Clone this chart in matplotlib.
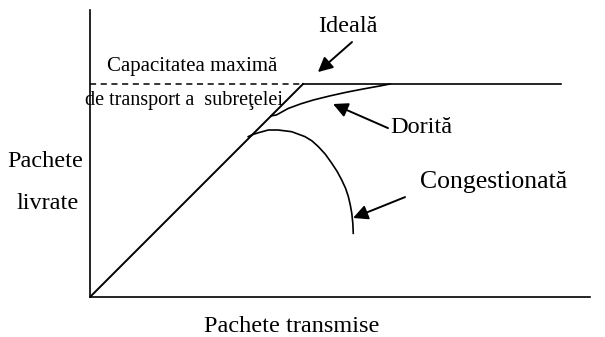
import matplotlib
matplotlib.use('Agg')
import matplotlib.pyplot as plt

plt.rcParams['font.family'] = ['Liberation Serif', 'DejaVu Serif']

# curves, in units of the subnet capacity
ideal_x = [0.0, 1.0]
ideal_y = [0.0, 1.0]
capacity = 1.0
cap_end = 2.21

dorita_x = [0.85, 0.876, 0.93, 0.99, 1.049, 1.13, 1.207, 1.29, 1.362, 1.408]
dorita_y = [0.85, 0.855, 0.885, 0.907, 0.925, 0.945, 0.962, 0.978, 0.991, 1.0]

cong_x = [0.743, 0.765, 0.790, 0.837, 0.884, 0.947, 1.009, 1.042, 1.072, 1.105,
          1.135, 1.160, 1.182, 1.200, 1.213, 1.222, 1.229, 1.234, 1.236]
cong_y = [0.753, 0.763, 0.771, 0.784, 0.784, 0.776, 0.753, 0.733, 0.706, 0.670,
          0.628, 0.590, 0.549, 0.510, 0.471, 0.432, 0.393, 0.345, 0.299]

labels = {
    'ideal': 'Ideală',
    'cap1': 'Capacitatea maximă',
    'cap2': 'de transport a  subreţelei',
    'dorita': 'Dorită',
    'cong': 'Congestionată',
    'ylab1': 'Pachete',
    'ylab2': 'livrate',
    'xlab': 'Pachete transmise',
}


def main():
    fig = plt.figure(figsize=(6.05, 3.37), dpi=100)
    ax = fig.add_axes([90 / 605, 40 / 337, 500 / 605, 287 / 337])
    ax.set_xlim(0, 500 / 213)
    ax.set_ylim(0, 287 / 213)
    for s in ('top', 'right'):
        ax.spines[s].set_visible(False)
    ax.spines['left'].set_linewidth(1.2)
    ax.spines['bottom'].set_linewidth(1.2)
    ax.set_xticks([])
    ax.set_yticks([])

    ax.plot(ideal_x, ideal_y, color='black', lw=1.4)
    ax.plot([0, ideal_x[-1]], [capacity, capacity], color='black', lw=1.1,
            ls=(0, (4, 3)))
    ax.plot([ideal_x[-1], cap_end], [capacity, capacity], color='black', lw=1.2)
    ax.plot(dorita_x, dorita_y, color='black', lw=1.2)
    ax.plot(cong_x, cong_y, color='black', lw=1.2)

    fs = 17.5
    ax.text(1.211, 1.244, labels['ideal'], fontsize=fs, ha='center', va='baseline')
    ax.text(0.08, 1.061, labels['cap1'], fontsize=15, ha='left', va='baseline')
    ax.text(-0.023, 0.901, labels['cap2'], fontsize=14.5, ha='left', va='baseline')
    ax.text(1.408, 0.770, labels['dorita'], fontsize=fs, ha='left', va='baseline')
    ax.text(1.549, 0.51, labels['cong'], fontsize=18.5, ha='left', va='baseline')
    ax.text(-0.033, 0.610, labels['ylab1'], fontsize=fs, ha='right', va='baseline')
    ax.text(-0.2, 0.413, labels['ylab2'], fontsize=fs, ha='center', va='baseline')
    ax.text(0.948, -0.163, labels['xlab'], fontsize=fs, ha='center', va='baseline')

    arrow = dict(arrowstyle='-|>', color='black', lw=1.4,
                 mutation_scale=22, shrinkA=0, shrinkB=0)
    ax.annotate('', xy=(1.070, 1.056), xytext=(1.230, 1.197), arrowprops=arrow)
    ax.annotate('', xy=(1.141, 0.906), xytext=(1.399, 0.793), arrowprops=arrow)
    ax.annotate('', xy=(1.235, 0.371), xytext=(1.479, 0.469), arrowprops=arrow)

    fig.savefig('out.png', dpi=100)


if __name__ == '__main__':
    main()
